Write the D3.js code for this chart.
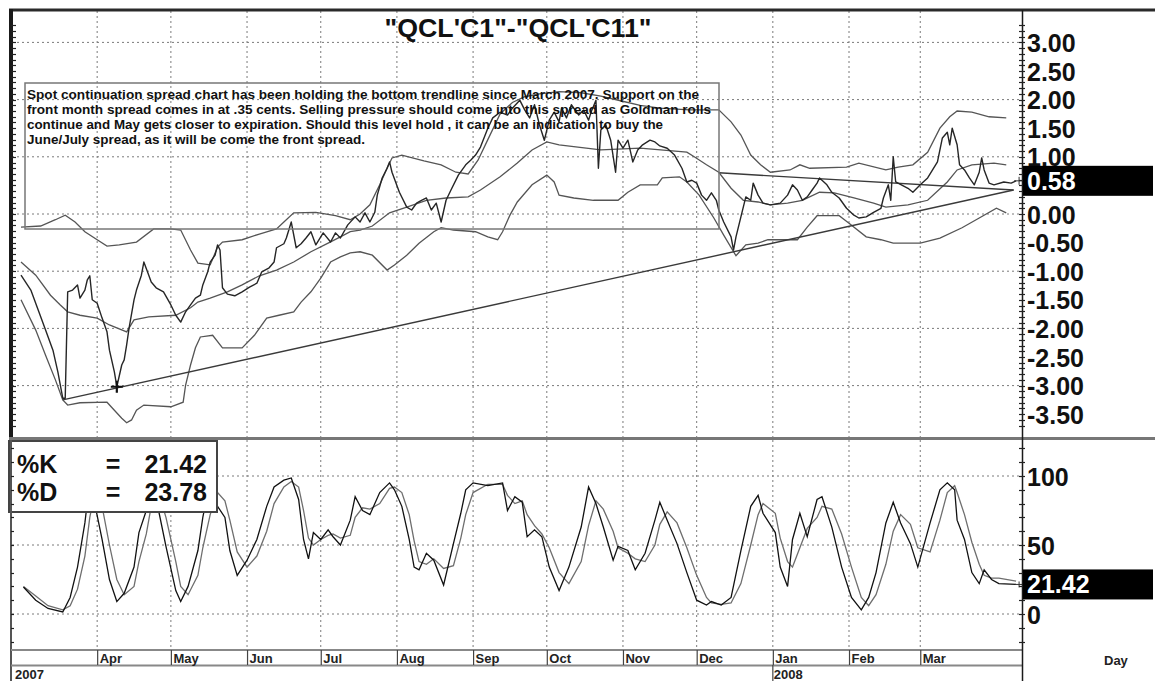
<!DOCTYPE html>
<html lang="en">
<head>
    <meta charset="UTF-8">
    <title>QCL'C1 - QCL'C11 spread</title>
    <script src="https://d3js.org/d3.v7.min.js"></script>
    <style>
        body {
            margin: 0;
            padding: 0;
            background-color: #fff;
        }
        svg {
            display: block;
            font-family: "Liberation Sans", Arial, sans-serif;
        }
        .grid line {
            stroke: #7a7a7a;
            stroke-width: 1;
            stroke-dasharray: 2,3;
        }
        .axis-label text {
            font-size: 25px;
            font-weight: bold;
            fill: #111;
        }
        .month-axis text {
            font-family: "Liberation Sans Narrow", "Arial Narrow", "Liberation Sans", sans-serif;
            font-size: 13px;
            font-weight: bold;
            fill: #222;
        }
        .note {
            font-family: "Liberation Sans Narrow", "Arial Narrow", "Liberation Sans", sans-serif;
            font-size: 12px;
            font-weight: bold;
            fill: #111;
        }
    </style>
</head>
<body>
<svg id="chart" width="1155" height="681"></svg>

<script>
    const titleText = "\"QCL'C1\"-\"QCL'C11\"";
    const noteLines = [
        "Spot continuation spread chart has been holding the bottom trendline since March 2007. Support on the",
        "front month spread comes in at .35 cents. Selling pressure should come into this spread as Goldman rolls",
        "continue and May gets closer to expiration.  Should this level hold , it can be an indication to buy the",
        "June/July spread, as it will be come the front spread."
    ];

    // spread (front minus 11th month)
    const spread = [
        ["2007-03-01",-1.07],["2007-03-05",-1.33],["2007-03-08",-1.68],["2007-03-11",-2.03],["2007-03-14",-2.38],
        ["2007-03-16",-2.76],["2007-03-18",-3.22],["2007-03-19",-3.22],["2007-03-20",-1.36],["2007-03-22",-1.33],
        ["2007-03-24",-1.24],["2007-03-25",-1.47],["2007-03-27",-1.33],["2007-03-28",-1.15],["2007-03-29",-1.08],
        ["2007-03-30",-1.50],["2007-04-01",-1.56],["2007-04-03",-1.82],["2007-04-05",-2.06],["2007-04-06",-2.38],
        ["2007-04-08",-2.76],["2007-04-09",-3.02],["2007-04-11",-2.64],["2007-04-12",-2.55],["2007-04-13",-2.29],
        ["2007-04-14",-1.99],["2007-04-16",-1.50],["2007-04-17",-1.33],["2007-04-19",-1.07],["2007-04-20",-0.84],
        ["2007-04-22",-1.07],["2007-04-23",-1.19],["2007-04-25",-1.29],["2007-04-28",-1.36],["2007-05-01",-1.59],
        ["2007-05-03",-1.77],["2007-05-05",-1.89],["2007-05-07",-1.71],["2007-05-09",-1.59],["2007-05-11",-1.47],
        ["2007-05-13",-1.42],["2007-05-14",-1.24],["2007-05-16",-1.01],["2007-05-17",-0.84],["2007-05-19",-0.72],
        ["2007-05-20",-0.54],["2007-05-21",-0.63],["2007-05-22",-1.29],["2007-05-24",-1.40],["2007-05-27",-1.43],
        ["2007-05-30",-1.36],["2007-06-02",-1.28],["2007-06-05",-1.21],["2007-06-07",-1.01],["2007-06-10",-0.94],
        ["2007-06-12",-0.84],["2007-06-13",-0.59],["2007-06-16",-0.52],["2007-06-17",-0.42],["2007-06-19",-0.14],
        ["2007-06-21",-0.59],["2007-06-23",-0.52],["2007-06-25",-0.42],["2007-06-27",-0.31],["2007-06-29",-0.54],
        ["2007-07-02",-0.33],["2007-07-05",-0.49],["2007-07-07",-0.33],["2007-07-09",-0.42],["2007-07-12",-0.19],
        ["2007-07-15",-0.05],["2007-07-17",-0.14],["2007-07-19",0.02],["2007-07-21",-0.14],["2007-07-23",0.03],
        ["2007-07-24",0.33],["2007-07-26",0.63],["2007-07-28",0.80],["2007-07-29",0.91],["2007-07-30",0.73],
        ["2007-08-02",0.38],["2007-08-05",0.12],["2007-08-07",0.07],["2007-08-09",0.19],["2007-08-11",0.24],
        ["2007-08-13",0.28],["2007-08-15",0.07],["2007-08-17",0.19],["2007-08-19",-0.14],["2007-08-21",0.24],
        ["2007-08-23",0.42],["2007-08-26",0.68],["2007-08-29",0.86],["2007-08-31",0.94],["2007-09-02",1.03],
        ["2007-09-04",1.17],["2007-09-07",1.50],["2007-09-09",1.68],["2007-09-12",1.78],["2007-09-15",1.73],
        ["2007-09-17",1.85],["2007-09-20",1.99],["2007-09-22",1.82],["2007-09-24",1.68],["2007-09-26",1.91],
        ["2007-09-28",1.56],["2007-09-30",1.29],["2007-10-02",1.64],["2007-10-04",1.78],["2007-10-06",1.61],
        ["2007-10-07",1.85],["2007-10-09",1.68],["2007-10-11",1.91],["2007-10-14",1.73],["2007-10-16",1.82],
        ["2007-10-18",1.64],["2007-10-19",1.78],["2007-10-21",1.99],["2007-10-22",0.80],["2007-10-23",1.47],
        ["2007-10-25",1.56],["2007-10-27",1.29],["2007-10-29",0.73],["2007-10-30",1.29],["2007-11-01",1.15],
        ["2007-11-03",1.29],["2007-11-05",0.91],["2007-11-07",1.12],["2007-11-09",1.21],["2007-11-12",1.29],
        ["2007-11-14",1.26],["2007-11-16",1.19],["2007-11-19",1.15],["2007-11-22",1.03],["2007-11-25",0.80],
        ["2007-11-27",0.56],["2007-11-29",0.59],["2007-12-01",0.54],["2007-12-03",0.33],["2007-12-05",0.24],
        ["2007-12-07",0.37],["2007-12-09",0.24],["2007-12-10",0.07],["2007-12-12",-0.14],["2007-12-15",-0.40],
        ["2007-12-16",-0.63],["2007-12-17",-0.40],["2007-12-19",-0.05],["2007-12-21",0.30],["2007-12-23",0.24],
        ["2007-12-24",0.54],["2007-12-26",0.33],["2007-12-28",0.19],["2007-12-31",0.16],["2008-01-04",0.19],
        ["2008-01-07",0.33],["2008-01-09",0.51],["2008-01-11",0.42],["2008-01-13",0.24],["2008-01-15",0.30],
        ["2008-01-17",0.42],["2008-01-19",0.54],["2008-01-20",0.63],["2008-01-23",0.51],["2008-01-25",0.38],
        ["2008-01-28",0.28],["2008-01-31",0.10],["2008-02-03",-0.02],["2008-02-05",-0.07],["2008-02-08",-0.05],
        ["2008-02-11",0.03],["2008-02-14",0.10],["2008-02-15",0.28],["2008-02-17",0.51],["2008-02-18",0.24],
        ["2008-02-19",1.00],["2008-02-20",0.56],["2008-02-25",0.45],["2008-02-27",0.38],["2008-03-01",0.51],
        ["2008-03-04",0.63],["2008-03-08",0.91],["2008-03-10",1.33],["2008-03-12",1.43],["2008-03-13",1.21],
        ["2008-03-14",1.50],["2008-03-16",1.21],["2008-03-17",0.86],["2008-03-19",0.77],["2008-03-21",0.63],
        ["2008-03-23",0.51],["2008-03-25",0.73],["2008-03-26",0.98],["2008-03-27",0.77],["2008-03-29",0.54],
        ["2008-03-31",0.51],["2008-04-04",0.56],["2008-04-07",0.54],["2008-04-09",0.58]
    ];

    const upperBand = [
        ["2007-03-01",-0.23],["2007-03-09",-0.21],["2007-03-15",-0.10],["2007-03-19",-0.02],["2007-03-23",-0.14],
        ["2007-03-27",-0.31],["2007-04-01",-0.45],["2007-04-05",-0.56],["2007-04-10",-0.54],["2007-04-17",-0.49],
        ["2007-04-24",-0.26],["2007-05-01",-0.26],["2007-05-05",-0.28],["2007-05-09",-0.63],["2007-05-12",-0.86],
        ["2007-05-17",-0.89],["2007-05-20",-0.58],["2007-05-22",-0.49],["2007-05-30",-0.45],["2007-06-06",-0.35],
        ["2007-06-13",-0.26],["2007-06-16",-0.14],["2007-06-20",0.02],["2007-06-29",0.03],["2007-07-07",-0.03],
        ["2007-07-13",-0.10],["2007-07-17",0.00],["2007-07-21",0.16],["2007-07-25",0.51],["2007-07-28",0.80],
        ["2007-07-30",0.98],["2007-08-03",1.03],["2007-08-12",0.93],["2007-08-19",0.86],["2007-08-25",0.73],
        ["2007-08-30",0.70],["2007-09-03",0.94],["2007-09-07",1.30],["2007-09-12",1.75],["2007-09-17",1.95],
        ["2007-09-22",2.05],["2007-09-28",2.10],["2007-10-06",2.14],["2007-10-15",2.12],["2007-10-23",2.06],
        ["2007-10-31",1.98],["2007-11-08",1.90],["2007-11-16",1.85],["2007-11-28",1.82],["2007-12-10",1.82],
        ["2007-12-15",1.61],["2007-12-19",1.38],["2007-12-23",1.03],["2007-12-27",0.86],["2007-12-31",0.73],
        ["2008-01-08",0.77],["2008-01-12",0.86],["2008-01-16",0.80],["2008-01-31",0.82],["2008-02-05",0.89],
        ["2008-02-16",0.77],["2008-02-21",0.82],["2008-02-27",0.86],["2008-03-04",1.08],["2008-03-09",1.50],
        ["2008-03-13",1.70],["2008-03-16",1.80],["2008-03-22",1.78],["2008-03-29",1.70],["2008-04-05",1.68]
    ];

    const middleBand = [
        ["2007-03-01",-0.84],["2007-03-07",-1.07],["2007-03-13",-1.42],["2007-03-17",-1.59],["2007-03-20",-1.71],
        ["2007-03-25",-1.77],["2007-04-01",-1.82],["2007-04-06",-1.94],["2007-04-13",-2.06],["2007-04-16",-1.85],
        ["2007-04-22",-1.80],["2007-05-03",-1.77],["2007-05-09",-1.64],["2007-05-12",-1.54],["2007-05-17",-1.47],
        ["2007-05-24",-1.36],["2007-05-30",-1.24],["2007-06-06",-1.08],["2007-06-13",-0.98],["2007-06-20",-0.84],
        ["2007-06-27",-0.66],["2007-07-04",-0.51],["2007-07-09",-0.40],["2007-07-13",-0.31],["2007-07-17",-0.28],
        ["2007-07-22",-0.21],["2007-07-29",0.02],["2007-08-05",0.12],["2007-08-13",0.24],["2007-08-21",0.28],
        ["2007-08-30",0.30],["2007-09-04",0.42],["2007-09-12",0.65],["2007-09-19",0.89],["2007-09-25",1.12],
        ["2007-10-01",1.26],["2007-10-06",1.21],["2007-10-23",1.12],["2007-11-08",1.15],["2007-11-27",1.08],
        ["2007-11-30",1.00],["2007-12-05",0.86],["2007-12-10",0.73],["2007-12-15",0.45],["2007-12-20",0.24],
        ["2007-12-26",0.21],["2007-12-31",0.16],["2008-01-07",0.19],["2008-01-13",0.24],["2008-01-20",0.38],
        ["2008-01-26",0.37],["2008-02-03",0.28],["2008-02-11",0.19],["2008-02-16",0.12],["2008-02-25",0.16],
        ["2008-03-04",0.24],["2008-03-12",0.56],["2008-03-16",0.77],["2008-03-22",0.86],["2008-03-31",0.89],
        ["2008-04-05",0.86]
    ];

    const lowerBand = [
        ["2007-03-01",-1.50],["2007-03-07",-2.03],["2007-03-11",-2.47],["2007-03-15",-2.90],["2007-03-18",-3.25],
        ["2007-03-20",-3.34],["2007-03-25",-3.30],["2007-04-05",-3.29],["2007-04-08",-3.43],["2007-04-11",-3.57],
        ["2007-04-13",-3.65],["2007-04-15",-3.60],["2007-04-17",-3.43],["2007-04-20",-3.34],["2007-05-01",-3.37],
        ["2007-05-06",-3.29],["2007-05-07",-2.99],["2007-05-09",-2.64],["2007-05-11",-2.34],["2007-05-13",-2.15],
        ["2007-05-18",-2.12],["2007-05-22",-2.34],["2007-05-30",-2.34],["2007-06-04",-2.12],["2007-06-09",-1.82],
        ["2007-06-14",-1.77],["2007-06-20",-1.71],["2007-06-23",-1.54],["2007-06-27",-1.36],["2007-07-01",-1.12],
        ["2007-07-05",-0.84],["2007-07-09",-0.75],["2007-07-13",-0.68],["2007-07-17",-0.66],["2007-07-22",-0.72],
        ["2007-07-28",-0.98],["2007-07-31",-0.89],["2007-08-05",-0.72],["2007-08-10",-0.51],["2007-08-16",-0.31],
        ["2007-08-19",-0.24],["2007-08-24",-0.28],["2007-09-02",-0.31],["2007-09-07",-0.40],["2007-09-11",-0.45],
        ["2007-09-13",-0.31],["2007-09-16",-0.02],["2007-09-19",0.21],["2007-09-25",0.51],["2007-10-01",0.68],
        ["2007-10-04",0.56],["2007-10-06",0.33],["2007-10-12",0.28],["2007-10-20",0.24],["2007-10-30",0.24],
        ["2007-11-03",0.38],["2007-11-08",0.51],["2007-11-15",0.51],["2007-11-17",0.63],["2007-11-24",0.65],
        ["2007-11-27",0.56],["2007-12-02",0.33],["2007-12-08",-0.07],["2007-12-12",-0.37],["2007-12-17",-0.73],
        ["2007-12-21",-0.54],["2007-12-26",-0.51],["2007-12-30",-0.45],["2008-01-11",-0.45],["2008-01-15",-0.23],
        ["2008-01-19",-0.03],["2008-01-28",-0.03],["2008-02-01",-0.16],["2008-02-08",-0.40],["2008-02-14",-0.45],
        ["2008-02-19",-0.51],["2008-03-01",-0.51],["2008-03-09",-0.42],["2008-03-18",-0.24],["2008-03-25",-0.07],
        ["2008-04-01",0.10],["2008-04-05",0.02]
    ];

    // hand drawn trendlines
    const supportLine = [["2007-03-18",-3.25],["2008-04-08",0.42]];
    const resistanceLine = [["2007-12-10",0.72],["2008-04-08",0.42]];
    const pivotMark = ["2007-04-09",-3.02];

    // stochastics
    const pctK = [
        ["2007-03-02",19.6],["2007-03-07",10],["2007-03-12",4],["2007-03-18",1.5],["2007-03-21",12],
        ["2007-03-24",34],["2007-03-27",66],["2007-03-29",96],["2007-03-31",80],["2007-04-03",54],
        ["2007-04-06",25],["2007-04-09",9],["2007-04-12",15],["2007-04-16",34],["2007-04-18",59],
        ["2007-04-21",75],["2007-04-23",96],["2007-04-26",75],["2007-04-29",49],["2007-05-03",17],
        ["2007-05-05",9],["2007-05-08",20],["2007-05-12",46],["2007-05-14",70],["2007-05-17",97],
        ["2007-05-20",78],["2007-05-23",70],["2007-05-25",46],["2007-05-28",28],["2007-06-01",39],
        ["2007-06-05",54],["2007-06-09",78],["2007-06-12",92],["2007-06-16",97],["2007-06-19",98.6],
        ["2007-06-22",83],["2007-06-24",54],["2007-06-26",40],["2007-06-28",59],["2007-07-01",54],
        ["2007-07-04",61],["2007-07-06",56],["2007-07-09",50],["2007-07-13",68],["2007-07-15",85],
        ["2007-07-18",75],["2007-07-21",72],["2007-07-25",88],["2007-07-29",95],["2007-07-31",90],
        ["2007-08-03",78],["2007-08-06",54],["2007-08-08",34],["2007-08-10",32],["2007-08-13",44],
        ["2007-08-16",39],["2007-08-20",21],["2007-08-24",51],["2007-08-27",73],["2007-08-29",90],
        ["2007-09-01",95],["2007-09-07",93],["2007-09-13",95],["2007-09-15",75],["2007-09-18",85],
        ["2007-09-21",81],["2007-09-23",56],["2007-09-26",61],["2007-09-29",56],["2007-10-02",34],
        ["2007-10-06",17],["2007-10-10",34],["2007-10-15",63],["2007-10-18",92],["2007-10-21",80],
        ["2007-10-24",63],["2007-10-28",39],["2007-10-30",49],["2007-11-03",46],["2007-11-06",32],
        ["2007-11-10",44],["2007-11-14",68],["2007-11-16",81],["2007-11-19",68],["2007-11-23",51],
        ["2007-11-27",30],["2007-12-01",10],["2007-12-05",6.5],["2007-12-07",9],["2007-12-11",6.5],
        ["2007-12-15",12],["2007-12-19",46],["2007-12-23",78],["2007-12-26",86],["2007-12-28",73],
        ["2008-01-02",59],["2008-01-04",34],["2008-01-07",20],["2008-01-09",54],["2008-01-12",73],
        ["2008-01-15",56],["2008-01-19",83],["2008-01-21",85],["2008-01-25",63],["2008-01-29",34],
        ["2008-02-02",12],["2008-02-06",3],["2008-02-09",12],["2008-02-12",30],["2008-02-16",66],
        ["2008-02-19",81],["2008-02-22",66],["2008-02-26",51],["2008-02-29",34],["2008-03-05",66],
        ["2008-03-09",90],["2008-03-12",95],["2008-03-15",90],["2008-03-16",68],["2008-03-19",54],
        ["2008-03-22",30],["2008-03-25",22],["2008-03-27",32],["2008-03-30",25],["2008-04-02",22],
        ["2008-04-09",21.42]
    ];

    const pctD = [
        ["2007-03-02",20],["2007-03-07",13],["2007-03-12",6],["2007-03-18",3],["2007-03-21",6],
        ["2007-03-24",18],["2007-03-27",42],["2007-03-29",70],["2007-03-31",88],["2007-04-03",78],
        ["2007-04-06",50],["2007-04-09",25],["2007-04-12",14],["2007-04-16",20],["2007-04-18",38],
        ["2007-04-21",58],["2007-04-23",78],["2007-04-26",88],["2007-04-29",70],["2007-05-03",38],
        ["2007-05-05",20],["2007-05-08",14],["2007-05-12",28],["2007-05-14",48],["2007-05-17",72],
        ["2007-05-20",88],["2007-05-23",82],["2007-05-25",68],["2007-05-28",45],["2007-06-01",34],
        ["2007-06-05",42],["2007-06-09",60],["2007-06-12",80],["2007-06-16",92],["2007-06-19",96],
        ["2007-06-22",92],["2007-06-24",75],["2007-06-26",55],["2007-06-28",50],["2007-07-01",54],
        ["2007-07-04",57],["2007-07-06",58],["2007-07-09",55],["2007-07-13",57],["2007-07-15",70],
        ["2007-07-18",77],["2007-07-21",76],["2007-07-25",80],["2007-07-29",91],["2007-07-31",92],
        ["2007-08-03",88],["2007-08-06",72],["2007-08-08",53],["2007-08-10",38],["2007-08-13",36],
        ["2007-08-16",40],["2007-08-20",33],["2007-08-24",35],["2007-08-27",55],["2007-08-29",72],
        ["2007-09-01",88],["2007-09-07",94],["2007-09-13",94],["2007-09-15",86],["2007-09-18",80],
        ["2007-09-21",82],["2007-09-23",72],["2007-09-26",64],["2007-09-29",58],["2007-10-02",48],
        ["2007-10-06",30],["2007-10-10",22],["2007-10-15",38],["2007-10-18",64],["2007-10-21",82],
        ["2007-10-24",76],["2007-10-28",60],["2007-10-30",48],["2007-11-03",44],["2007-11-06",40],
        ["2007-11-10",38],["2007-11-14",50],["2007-11-16",65],["2007-11-19",74],["2007-11-23",66],
        ["2007-11-27",48],["2007-12-01",28],["2007-12-05",12],["2007-12-07",8],["2007-12-11",7],
        ["2007-12-15",8],["2007-12-19",22],["2007-12-23",50],["2007-12-26",72],["2007-12-28",80],
        ["2008-01-02",73],["2008-01-04",55],["2008-01-07",38],["2008-01-09",34],["2008-01-12",48],
        ["2008-01-15",62],["2008-01-19",70],["2008-01-21",78],["2008-01-25",76],["2008-01-29",58],
        ["2008-02-02",34],["2008-02-06",12],["2008-02-09",6],["2008-02-12",14],["2008-02-16",36],
        ["2008-02-19",60],["2008-02-22",72],["2008-02-26",65],["2008-02-29",48],["2008-03-05",45],
        ["2008-03-09",68],["2008-03-12",88],["2008-03-15",93],["2008-03-16",88],["2008-03-19",72],
        ["2008-03-22",52],["2008-03-25",36],["2008-03-27",28],["2008-03-30",26],["2008-04-02",26],
        ["2008-04-09",23.78]
    ];

    const lastSpread = 0.58;
    const lastK = 21.42;
    const lastD = 23.78;

    const spreadTicks = [3, 2.5, 2, 1.5, 1, 0, -0.5, -1, -1.5, -2, -2.5, -3, -3.5];
    const spreadGrid = [3, 2, 1, 0, -1, -2, -3];
    const stochTicks = [100, 50, 0];
    const monthTicks = ["2007-04-01","2007-05-01","2007-06-01","2007-07-01","2007-08-01","2007-09-01",
        "2007-10-01","2007-11-01","2007-12-01","2008-01-01","2008-02-01","2008-03-01"];
    const yearLabels = [["2007-03-01","2007"],["2008-01-01","2008"]];

    // ---------------------------------------------------------------
    const parse = d3.timeParse("%Y-%m-%d");
    const toPts = arr => arr.map(d => ({ date: parse(d[0]), value: d[1] }));

    const svg = d3.select("#chart");
    const W = 1155, H = 681;
    const left = 12, right = 1022;
    const top1 = 11, bot1 = 437, top2 = 440, bot2 = 650;

    const x = d3.scaleTime()
        .domain([parse("2007-03-01"), parse("2008-04-11")])
        .range([21, 1021]);
    const y1 = d3.scaleLinear().domain([-3.5, 3]).range([414.2, 42.4]);
    const y2 = d3.scaleLinear().domain([0, 100]).range([614, 476]);

    svg.append("rect").attr("width", W).attr("height", H).attr("fill", "#fff");

    const defs = svg.append("defs");
    defs.append("clipPath").attr("id", "clip1")
        .append("rect").attr("x", left).attr("y", top1).attr("width", right - left).attr("height", bot1 - top1);
    defs.append("clipPath").attr("id", "clip2")
        .append("rect").attr("x", left).attr("y", top2).attr("width", right - left).attr("height", bot2 - top2);

    // grids
    const grid = svg.append("g").attr("class", "grid");
    grid.selectAll(".h1").data(spreadGrid).join("line")
        .attr("x1", left).attr("x2", right)
        .attr("y1", d => y1(d)).attr("y2", d => y1(d));
    grid.selectAll(".h2").data(stochTicks).join("line")
        .attr("x1", left).attr("x2", right)
        .attr("y1", d => y2(d)).attr("y2", d => y2(d));
    monthTicks.forEach(m => {
        const mx = x(parse(m));
        grid.append("line").attr("x1", mx).attr("x2", mx).attr("y1", top1).attr("y2", bot1);
        grid.append("line").attr("x1", mx).attr("x2", mx).attr("y1", top2).attr("y2", bot2);
    });

    // upper panel series
    const line1 = d3.line().x(d => x(d.date)).y(d => y1(d.value));
    const p1 = svg.append("g").attr("clip-path", "url(#clip1)");

    [upperBand, middleBand, lowerBand].forEach(arr => {
        p1.append("path").datum(toPts(arr))
            .attr("fill", "none").attr("stroke", "#555").attr("stroke-width", 1.3)
            .attr("d", line1);
    });
    [supportLine, resistanceLine].forEach(arr => {
        p1.append("path").datum(toPts(arr))
            .attr("fill", "none").attr("stroke", "#3a3a3a").attr("stroke-width", 1.4)
            .attr("d", line1);
    });
    p1.append("path").datum(toPts(spread))
        .attr("fill", "none").attr("stroke", "#262626").attr("stroke-width", 1.4)
        .attr("stroke-linejoin", "round")
        .attr("d", line1);

    // pivot cross on the support line
    const px = x(parse(pivotMark[0])), py = y1(pivotMark[1]);
    p1.append("path")
        .attr("d", `M${px - 6},${py}H${px + 6}M${px},${py - 6}V${py + 6}`)
        .attr("stroke", "#111").attr("stroke-width", 2.2);

    // last price tick
    const lastDate = parse(spread[spread.length - 1][0]);
    svg.append("path")
        .attr("d", `M${x(lastDate) - 2},${y1(lastSpread)}H${right}M${x(lastDate) + 3},${y1(lastSpread) - 4}V${y1(lastSpread) + 4}`)
        .attr("stroke", "#333").attr("stroke-width", 1);

    // note box
    svg.append("rect")
        .attr("x", 25).attr("y", 83).attr("width", 694).attr("height", 146)
        .attr("fill", "none").attr("stroke", "#777").attr("stroke-width", 1.5);
    const noteWidths = [672, 684, 636, 338];
    svg.selectAll(".note").data(noteLines).join("text")
        .attr("class", "note")
        .attr("x", 27)
        .attr("y", (d, i) => 99 + i * 15)
        .attr("textLength", (d, i) => noteWidths[i])
        .attr("lengthAdjust", "spacingAndGlyphs")
        .text(d => d);

    // title
    svg.append("text")
        .attr("x", 518).attr("y", 37)
        .attr("text-anchor", "middle")
        .attr("textLength", 267).attr("lengthAdjust", "spacingAndGlyphs")
        .style("font-size", "25px").style("font-weight", "bold").style("fill", "#111")
        .text(titleText);

    // lower panel series
    const line2 = d3.line().x(d => x(d.date)).y(d => y2(d.value));
    const p2 = svg.append("g").attr("clip-path", "url(#clip2)");
    p2.append("path").datum(toPts(pctD))
        .attr("fill", "none").attr("stroke", "#6e6e6e").attr("stroke-width", 1.3)
        .attr("d", line2);
    p2.append("path").datum(toPts(pctK))
        .attr("fill", "none").attr("stroke", "#111").attr("stroke-width", 1.3)
        .attr("d", line2);
    const kx = x(parse(pctK[pctK.length - 1][0])), ky = y2(lastK);
    svg.append("path")
        .attr("d", `M${kx - 1},${ky}H${kx + 7}M${kx + 3},${ky - 3}V${ky + 3}`)
        .attr("stroke", "#333").attr("stroke-width", 1);

    // legend box for the stochastics
    const lg = svg.append("g").style("font-size", "25px").style("font-weight", "bold").style("fill", "#111");
    lg.append("rect").attr("x", 9).attr("y", 441).attr("width", 208).attr("height", 71)
        .attr("fill", "#fff").attr("stroke", "#444").attr("stroke-width", 2);
    [["%K", lastK], ["%D", lastD]].forEach(([name, v], i) => {
        const ty = 473 + i * 28;
        lg.append("text").attr("x", 17).attr("y", ty).text(name);
        lg.append("text").attr("x", 113).attr("y", ty).attr("text-anchor", "middle").text("=");
        lg.append("text").attr("x", 207).attr("y", ty).attr("text-anchor", "end").text(v.toFixed(2));
    });

    // frame
    svg.append("line").attr("x1", 9).attr("x2", W).attr("y1", 10).attr("y2", 10)
        .attr("stroke", "#2a2a2a").attr("stroke-width", 3);
    svg.append("line").attr("x1", 11).attr("x2", 11).attr("y1", 9).attr("y2", bot1)
        .attr("stroke", "#1a1a1a").attr("stroke-width", 4);
    svg.append("line").attr("x1", 11).attr("x2", 11).attr("y1", top2).attr("y2", H)
        .attr("stroke", "#555").attr("stroke-width", 2);
    svg.append("line").attr("x1", 9).attr("x2", W).attr("y1", 438.5).attr("y2", 438.5)
        .attr("stroke", "#777").attr("stroke-width", 3);
    svg.append("line").attr("x1", 11).attr("x2", right).attr("y1", 650).attr("y2", 650)
        .attr("stroke", "#888").attr("stroke-width", 2);
    svg.append("line").attr("x1", 11).attr("x2", right).attr("y1", 665.5).attr("y2", 665.5)
        .attr("stroke", "#888").attr("stroke-width", 2);
    svg.append("line").attr("x1", right + 0.5).attr("x2", right + 0.5).attr("y1", 10).attr("y2", H)
        .attr("stroke", "#1a1a1a").attr("stroke-width", 1.5);

    // ruler ticks along the value axes
    const minor1 = d3.range(-37, 34).map(d => d / 10);
    const minor2 = d3.range(-2, 13).map(d => d * 10);
    const ticks = svg.append("g").attr("stroke", "#222").attr("stroke-width", 1.2);
    minor1.forEach(v => {
        const yy = Math.round(y1(v)) + 0.5;
        if (yy < top1 + 2 || yy > bot1 - 2) return;
        ticks.append("line").attr("x1", right - 3).attr("x2", right + 3).attr("y1", yy).attr("y2", yy);
        ticks.append("line").attr("x1", 11).attr("x2", 16).attr("y1", yy).attr("y2", yy);
    });
    minor2.forEach(v => {
        const yy = Math.round(y2(v)) + 0.5;
        if (yy < top2 + 2 || yy > bot2 - 2) return;
        ticks.append("line").attr("x1", right - 3).attr("x2", right + 3).attr("y1", yy).attr("y2", yy);
        ticks.append("line").attr("x1", 11).attr("x2", 14).attr("y1", yy).attr("y2", yy);
    });

    // value axes
    const ax1 = svg.append("g").attr("class", "axis-label")
        .attr("transform", `translate(${right},0)`)
        .call(d3.axisRight(y1).tickValues(spreadTicks).tickFormat(d => d.toFixed(2)).tickSize(0).tickPadding(5));
    ax1.select(".domain").remove();
    ax1.selectAll("text").attr("dy", "0.36em");

    const ax2 = svg.append("g").attr("class", "axis-label")
        .attr("transform", `translate(${right},0)`)
        .call(d3.axisRight(y2).tickValues(stochTicks).tickFormat(d3.format("d")).tickSize(0).tickPadding(5));
    ax2.select(".domain").remove();
    ax2.selectAll("text").attr("dy", "0.36em");

    // last value flags
    const flag = (yy, label) => {
        svg.append("rect").attr("x", right + 1).attr("y", yy - 15).attr("width", W - right - 3).attr("height", 30)
            .attr("fill", "#000");
        svg.append("text").attr("x", right + 5).attr("y", yy).attr("dy", "0.36em").text(label)
            .style("font-size", "25px").style("font-weight", "bold").style("fill", "#fff");
    };
    flag(y1(lastSpread), lastSpread.toFixed(2));
    flag(y2(lastK), lastK.toFixed(2));

    // month axis
    const mAxis = svg.append("g").attr("class", "month-axis")
        .attr("transform", "translate(0,650)")
        .call(d3.axisBottom(x).tickValues(monthTicks.map(parse))
            .tickFormat(d3.timeFormat("%b")).tickSize(15));
    mAxis.select(".domain").remove();
    mAxis.selectAll(".tick line").attr("stroke", "#444").attr("stroke-width", 1.2);
    mAxis.selectAll(".tick text")
        .attr("x", 2).attr("y", 3).attr("dy", "0.8em")
        .style("text-anchor", "start");

    yearLabels.forEach(([d, label], i) => {
        const yx = i === 0 ? x.range()[0] - 6 : x(parse(d)) + 1;
        svg.append("text").attr("x", yx).attr("y", 679).text(label)
            .style("font-family", "\"Liberation Sans Narrow\", \"Liberation Sans\", sans-serif")
            .style("font-size", "13px").style("font-weight", "bold").style("fill", "#222");
        if (i > 0) {
            svg.append("line").attr("x1", x(parse(d))).attr("x2", x(parse(d))).attr("y1", 665).attr("y2", H)
                .attr("stroke", "#444").attr("stroke-width", 1.2);
        }
    });

    svg.append("text").attr("x", 1104).attr("y", 665).text("Day")
        .style("font-family", "\"Liberation Sans Narrow\", \"Liberation Sans\", sans-serif")
        .style("font-size", "13px").style("font-weight", "bold").style("fill", "#222");
</script>
</body>
</html>
